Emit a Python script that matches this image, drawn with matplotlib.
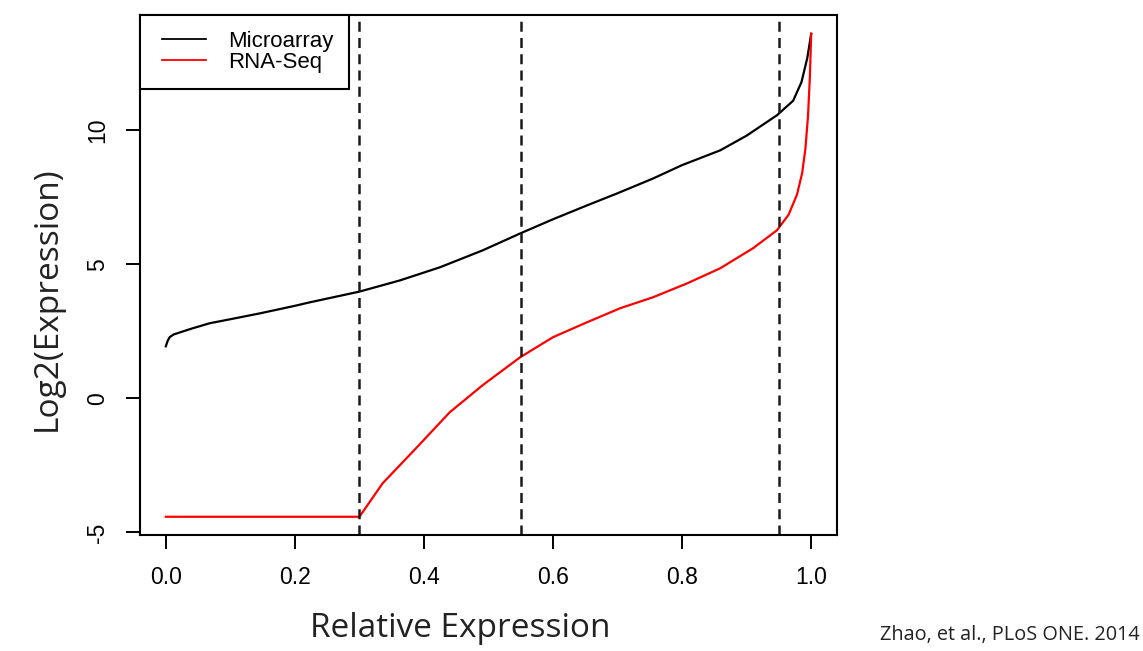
import numpy as np
from matplotlib import pyplot as plt
from matplotlib.legend_handler import HandlerLine2D

# quantile position vs log2 expression, read per platform
microarray_x = [0.0, 0.003, 0.006, 0.012, 0.022, 0.04, 0.068, 0.1, 0.146, 0.2, 0.223, 0.3,
                0.363, 0.425, 0.491, 0.55, 0.6, 0.653, 0.7, 0.755, 0.8, 0.859, 0.9,
                0.947, 0.972, 0.985, 0.994, 1.0]
microarray_y = [1.94, 2.15, 2.28, 2.38, 2.46, 2.6, 2.8, 2.95, 3.17, 3.45, 3.58, 3.98,
                4.4, 4.89, 5.52, 6.16, 6.68, 7.2, 7.65, 8.2, 8.7, 9.25, 9.8,
                10.56, 11.1, 11.8, 12.7, 13.6]

rnaseq_x = [0.0, 0.3, 0.336, 0.389, 0.44, 0.491, 0.549, 0.6, 0.653, 0.704, 0.755,
            0.808, 0.859, 0.91, 0.947, 0.965, 0.978, 0.986, 0.991, 0.995, 0.998, 1.0]
rnaseq_y = [-4.42, -4.42, -3.17, -1.83, -0.52, 0.49, 1.53, 2.28, 2.84, 3.36, 3.77,
            4.29, 4.85, 5.6, 6.27, 6.85, 7.6, 8.4, 9.3, 10.5, 12.0, 13.6]

cutoffs = [0.3, 0.55, 0.95]
x_ticks = [0.0, 0.2, 0.4, 0.6, 0.8, 1.0]
y_ticks = [-5, 0, 5, 10]

tick_font = 'Liberation Sans'
label_font = 'Open Sans'
W, H = 1143, 651

fig = plt.figure(figsize=(W / 100, H / 100), dpi=100)
ax = fig.add_axes([140 / W, 1 - 535 / H, 697 / W, 520 / H])

ax.plot(microarray_x, microarray_y, color='black', linewidth=1.6, label='Microarray')
ax.plot(rnaseq_x, rnaseq_y, color='red', linewidth=1.6, label='RNA-Seq')
for c in cutoffs:
    ax.axvline(c, color='#1a1a1a', linewidth=1.8, linestyle=(0, (4, 2.5)))

ax.set_xlim(-0.04, 1.04)
ax.set_ylim(-5.1, 14.3)
ax.set_xticks(x_ticks)
ax.set_xticklabels(['%.1f' % v for v in x_ticks], fontfamily=tick_font, fontsize=16.5)
ax.set_yticks(y_ticks)
ax.set_yticklabels([str(v) for v in y_ticks], fontfamily=tick_font, fontsize=16.5,
                   rotation=90, va='center')
ax.tick_params(direction='out', length=10, width=1.4)
ax.tick_params(axis='x', pad=12)
ax.tick_params(axis='y', pad=12)
for s in ax.spines.values():
    s.set_linewidth(1.5)

# axis titles placed by hand (R style margins)
fig.text(460 / W, 1 - 637 / H, 'Relative Expression', ha='center', va='baseline',
         fontfamily=label_font, fontsize=24, color='#222222')
fig.text(56 / W, 1 - 299 / H, 'Log2(Expression)', ha='center', va='baseline',
         rotation=90, rotation_mode='anchor',
         fontfamily=label_font, fontsize=24, color='#222222')

leg = ax.legend(loc='upper left', bbox_to_anchor=(0, 1), borderaxespad=0,
                fancybox=False, edgecolor='black', framealpha=1,
                prop={'family': tick_font, 'size': 16},
                borderpad=0.72, handlelength=2.25, handletextpad=0.98, labelspacing=0.0,
                handler_map={plt.Line2D: HandlerLine2D(xpad=0.27)})
leg.get_frame().set_linewidth(1.5)
for line in leg.get_lines():
    line.set_linewidth(1.3)

fig.text(1140 / W, 1 - 640 / H, 'Zhao, et al., PLoS ONE. 2014', ha='right', va='baseline',
         fontfamily=label_font, fontsize=14.3, color='#222222')

fig.savefig('out.png', dpi=100)
